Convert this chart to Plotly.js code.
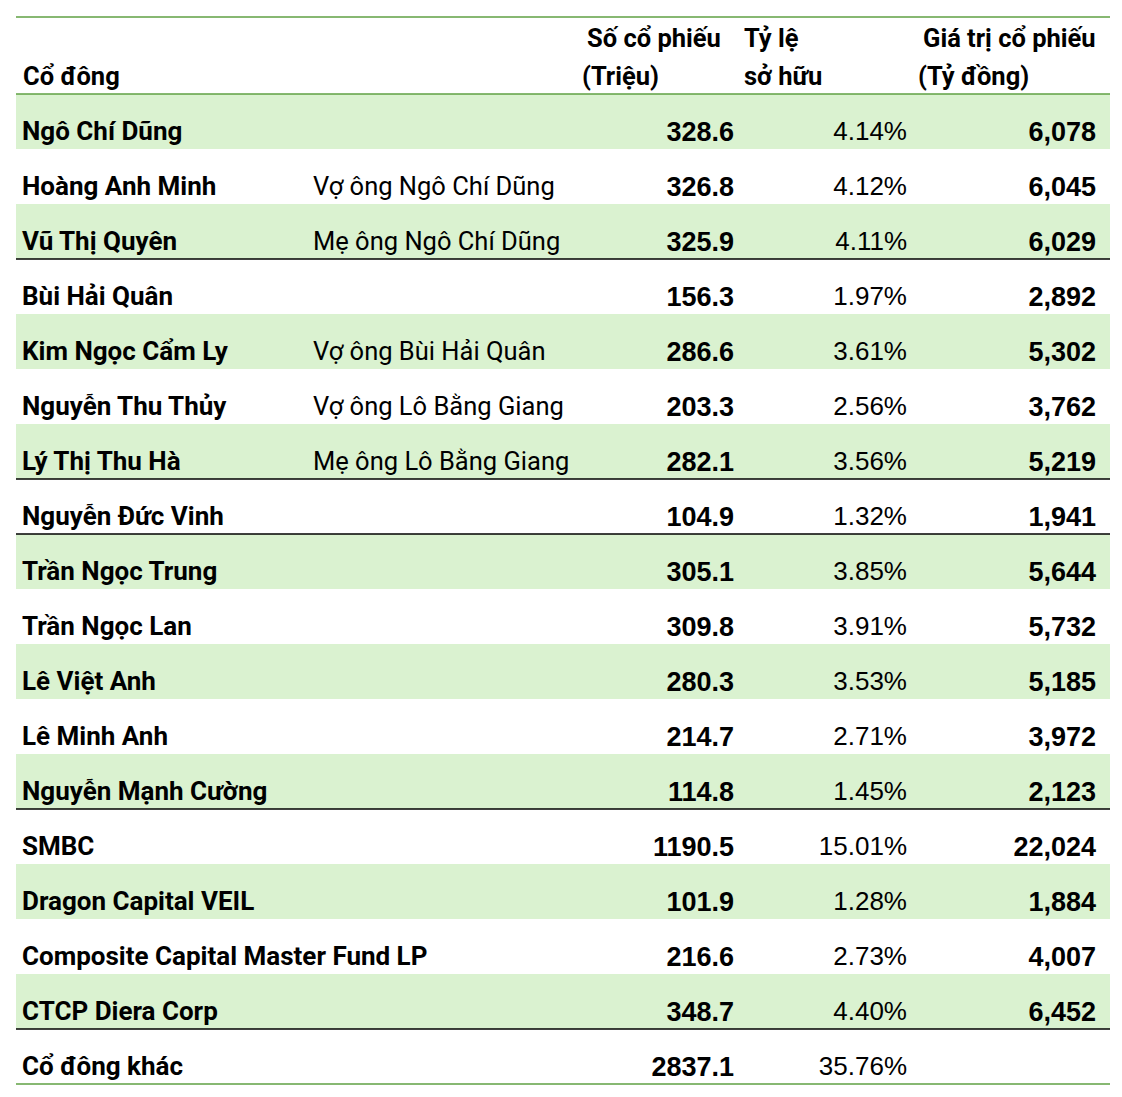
<!DOCTYPE html>
<html>
<head>
<meta charset="utf-8">
<script src="https://cdn.plot.ly/plotly-3.0.1.min.js"></script>
<style>
  html, body { margin: 0; padding: 0; background: #ffffff; }
  #chart { width: 1122px; height: 1097px; }
</style>
</head>
<body>
<div id="chart"></div>
<script>
// ---------------- DATA ----------------
const shareholders = [
  'Ngô Chí Dũng', 'Hoàng Anh Minh', 'Vũ Thị Quyên', 'Bùi Hải Quân', 'Kim Ngọc Cẩm Ly',
  'Nguyễn Thu Thủy', 'Lý Thị Thu Hà', 'Nguyễn Đức Vinh', 'Trần Ngọc Trung', 'Trần Ngọc Lan',
  'Lê Việt Anh', 'Lê Minh Anh', 'Nguyễn Mạnh Cường', 'SMBC', 'Dragon Capital VEIL',
  'Composite Capital Master Fund LP', 'CTCP Diera Corp', 'Cổ đông khác'
];
const relations = [
  '', 'Vợ ông Ngô Chí Dũng', 'Mẹ ông Ngô Chí Dũng', '', 'Vợ ông Bùi Hải Quân',
  'Vợ ông Lô Bằng Giang', 'Mẹ ông Lô Bằng Giang', '', '', '',
  '', '', '', '', '',
  '', '', ''
];
const sharesMillion = [
  328.6, 326.8, 325.9, 156.3, 286.6,
  203.3, 282.1, 104.9, 305.1, 309.8,
  280.3, 214.7, 114.8, 1190.5, 101.9,
  216.6, 348.7, 2837.1
];
const ownershipPct = [
  4.14, 4.12, 4.11, 1.97, 3.61,
  2.56, 3.56, 1.32, 3.85, 3.91,
  3.53, 2.71, 1.45, 15.01, 1.28,
  2.73, 4.40, 35.76
];
const valueBillionVND = [
  6078, 6045, 6029, 2892, 5302,
  3762, 5219, 1941, 5644, 5732,
  5185, 3972, 2123, 22024, 1884,
  4007, 6452, null
];
const headerLabels = {
  name: ['Cổ đông'],
  shares: ['Số cổ phiếu', '(Triệu)'],
  pct: ['Tỷ lệ', 'sở hữu'],
  value: ['Giá trị cổ phiếu', '(Tỷ đồng)']
};
// groups separated by a black rule (index of last row in each group)
const groupEnds = [2, 6, 7, 12, 16];

// ---------------- LAYOUT CONSTANTS ----------------
const W = 1122, H = 1097;
const ROW_H = 55, ROW0_CENTER = 121.5;       // pixel geometry
const X_LEFT = 16, X_RIGHT = 1110;
const COL = { name: 22, rel: 313, shares: 734, pct: 907, value: 1096 };
const TEXT_DY = 0.225;                       // text sits low in cell (bottom aligned)
const NARROW = 'Roboto, "Liberation Sans Narrow", sans-serif';
const SANS = '"Liberation Sans", Arial, sans-serif';
const GREEN = '#5FA043';
const SHADE = '#DAF2D0';

const n = shareholders.length;
const rows = shareholders.map((_, i) => i);
const ty = rows.map(i => i + TEXT_DY);
const constX = v => rows.map(() => v);

function fmtInt(v) { return v == null ? '' : v.toLocaleString('en-US'); }

const traces = [
  {
    type: 'scatter', mode: 'text', x: constX(COL.name), y: ty,
    text: shareholders, textposition: 'middle right',
    textfont: { family: NARROW, size: 26, color: '#000', weight: 'bold' },
    hoverinfo: 'skip', showlegend: false, cliponaxis: false
  },
  {
    type: 'scatter', mode: 'text', x: constX(COL.rel), y: ty,
    text: relations, textposition: 'middle right',
    textfont: { family: NARROW, size: 25.5, color: '#000' },
    hoverinfo: 'skip', showlegend: false, cliponaxis: false
  },
  {
    type: 'scatter', mode: 'text', x: constX(COL.shares), y: ty,
    text: sharesMillion.map(v => v.toFixed(1)), textposition: 'middle left',
    textfont: { family: SANS, size: 27, color: '#000', weight: 'bold' },
    hoverinfo: 'skip', showlegend: false, cliponaxis: false
  },
  {
    type: 'scatter', mode: 'text', x: constX(COL.pct), y: ty,
    text: ownershipPct.map(v => v.toFixed(2) + '%'), textposition: 'middle left',
    textfont: { family: SANS, size: 26, color: '#000' },
    hoverinfo: 'skip', showlegend: false, cliponaxis: false
  },
  {
    type: 'scatter', mode: 'text', x: constX(COL.value), y: ty,
    text: valueBillionVND.map(fmtInt), textposition: 'middle left',
    textfont: { family: SANS, size: 27, color: '#000', weight: 'bold' },
    hoverinfo: 'skip', showlegend: false, cliponaxis: false
  }
];

// shapes: shaded rows, rules
const shapes = [];
rows.forEach(i => {
  if (i % 2 === 0) {
    shapes.push({ type: 'rect', xref: 'x', yref: 'y', x0: X_LEFT, x1: X_RIGHT,
      y0: i - 0.5, y1: i + 0.5, fillcolor: SHADE, line: { width: 0 }, layer: 'below' });
  }
});
groupEnds.forEach(i => {
  shapes.push({ type: 'line', xref: 'x', yref: 'y', x0: X_LEFT, x1: X_RIGHT,
    y0: i + 0.5, y1: i + 0.5, line: { color: '#000', width: 1.5 }, layer: 'above' });
});
const hdrTop = (17 - ROW0_CENTER) / ROW_H;
[hdrTop, -0.5, n - 0.5].forEach(y => {
  shapes.push({ type: 'line', xref: 'x', yref: 'y', x0: X_LEFT, x1: X_RIGHT,
    y0: y, y1: y, line: { color: GREEN, width: 1.5 }, layer: 'above' });
});

// header annotations
const L1 = (38 - ROW0_CENTER) / ROW_H, L2 = (76 - ROW0_CENTER) / ROW_H;
const hdrFont = { family: NARROW, size: 25.5, color: '#000', weight: 'bold' };
const annotations = [
  { x: COL.name, y: L2, text: headerLabels.name[0] },
  { x: 586, y: L1, text: headerLabels.shares[0] },
  { x: 581, y: L2, text: headerLabels.shares[1] },
  { x: 743, y: L1, text: headerLabels.pct[0] },
  { x: 743, y: L2, text: headerLabels.pct[1] },
  { x: 922, y: L1, text: headerLabels.value[0] },
  { x: 917, y: L2, text: headerLabels.value[1] }
].map(a => Object.assign({ xref: 'x', yref: 'y', xanchor: 'left', yanchor: 'middle',
  showarrow: false, font: hdrFont, borderpad: 0 }, a));

const layout = {
  width: W, height: H,
  margin: { l: 0, r: 0, t: 0, b: 0, pad: 0 },
  paper_bgcolor: '#ffffff', plot_bgcolor: '#ffffff',
  xaxis: { range: [0, W], visible: false, fixedrange: true },
  yaxis: { range: [(H - ROW0_CENTER) / ROW_H, -ROW0_CENTER / ROW_H], visible: false, fixedrange: true },
  shapes: shapes,
  annotations: annotations,
  showlegend: false
};

Plotly.newPlot('chart', traces, layout, { staticPlot: true, displayModeBar: false });
</script>
</body>
</html>
